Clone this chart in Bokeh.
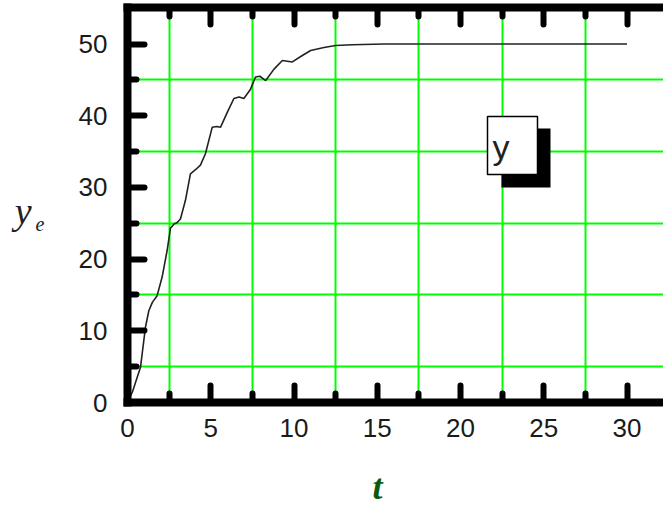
from bokeh.plotting import figure
from bokeh.models import (FixedTicker, LinearAxis, Range1d, Label, BoxAnnotation, ColumnDataSource,
                          CustomLabelingPolicy, Title)
from bokeh.embed import file_html
from bokeh.resources import INLINE

# ---- data ----
t_vals = [0, 0.3, 0.78, 1.08, 1.28, 1.5, 1.78, 2.08, 2.38, 2.58, 2.8, 2.98, 3.18, 3.48, 3.78,
          4.1, 4.38, 4.68, 5.09, 5.35, 5.59, 6.0, 6.39, 6.7, 6.99, 7.39, 7.69, 7.95, 8.3, 8.8,
          9.3, 9.9, 10.5, 11.0, 11.8, 12.5, 13.5, 15.4, 20, 25, 30]
ye_vals = [0, 1.5, 4.9, 10.5, 12.8, 14.0, 14.9, 17.5, 21.2, 24.3, 24.9, 25.1, 25.6, 28.2, 31.9,
           32.5, 33.1, 34.7, 38.4, 38.5, 38.4, 40.5, 42.4, 42.6, 42.4, 43.7, 45.4, 45.5, 44.9, 46.5,
           47.7, 47.5, 48.4, 49.1, 49.5, 49.8, 49.9, 50, 50, 50, 50]
x_major = [0, 5, 10, 15, 20, 25, 30]
x_minor = [2.5, 7.5, 12.5, 17.5, 22.5, 27.5]
y_major = [0, 10, 20, 30, 40, 50]
y_minor = [5, 15, 25, 35, 45]
legend_text = "y"
x_title = "t"
y_title_main = "y"
y_title_sub = "e"

# ---- layout (page pixels, figure at top-left of page) ----
W, H = 663, 508
FRAME_L, FRAME_T, FRAME_B = 127, 7, 402
PX_PER_X = 16.65
PX_PER_Y = 7.17
x_end = (W - FRAME_L) / PX_PER_X
y_end = (FRAME_B - FRAME_T) / PX_PER_Y


def dx(px):
    return (px - FRAME_L) / PX_PER_X


def dy(py):
    return (FRAME_B - py) / PX_PER_Y


p = figure(width=W, height=H, output_backend="svg", toolbar_location=None,
           x_range=Range1d(0, x_end), y_range=Range1d(0, y_end),
           min_border_left=FRAME_L, min_border_right=0, min_border_top=FRAME_T,
           min_border_bottom=H - FRAME_B,
           background_fill_color="white", border_fill_color="white")
p.outline_line_color = None

no_labels = CustomLabelingPolicy(code="for (const i of indices) { if (false) yield i }")

bottom = p.below[0]
left = p.left[0]
top = LinearAxis(major_label_text_font_size="0px", major_label_standoff=0,
                 major_label_policy=no_labels)
p.add_layout(top, "above")

label_font = "Liberation Sans"
for ax, major, minor in [(bottom, x_major, x_minor), (left, y_major, y_minor), (top, x_major, x_minor)]:
    ax.ticker = FixedTicker(ticks=major, minor_ticks=minor)
    ax.axis_line_width = 8
    ax.axis_line_color = "black"
    ax.axis_line_cap = "square"
    ax.major_tick_in = 17
    ax.major_tick_out = 0
    ax.minor_tick_in = 9
    ax.minor_tick_out = 0
    ax.major_tick_line_width = 6
    ax.minor_tick_line_width = 6
    ax.major_tick_line_cap = "round"
    ax.minor_tick_line_cap = "round"
    ax.major_tick_line_color = "black"
    ax.minor_tick_line_color = "black"

for ax in [bottom, left]:
    ax.major_label_text_font = label_font
    ax.major_label_text_font_size = "26px"
    ax.major_label_text_color = "#1a1a1a"
bottom.major_label_standoff = 16
left.major_label_standoff = 20


def title_axis(text, standoff, font_size, line_height):
    return LinearAxis(ticker=FixedTicker(ticks=[]),
                      axis_line_color=None, major_tick_line_color=None, minor_tick_line_color=None,
                      major_tick_in=0, major_tick_out=0, minor_tick_in=0, minor_tick_out=0,
                      major_label_text_font_size="0px", major_label_standoff=0,
                      major_label_policy=no_labels,
                      axis_label=text, axis_label_standoff=standoff,
                      axis_label_orientation="horizontal",
                      axis_label_text_font="Liberation Serif", axis_label_text_font_size=font_size,
                      axis_label_text_font_style="italic", axis_label_text_color="#222222",
                      axis_label_text_line_height=line_height)


# y_e title: two stacked left axes used only for their labels (each pushed down by an empty line)
p.add_layout(title_axis("\n" + y_title_sub, 31, "20px", 1.7), "left")
p.add_layout(title_axis("\n" + y_title_main, 1, "38px", 0.27), "left")

# t title below the x axis (pushed down by an empty first line)
p.add_layout(Title(text="\n" + x_title, align="left", offset=245, standoff=0,
                   text_font="Liberation Serif", text_font_size="36px", text_line_height=0.64,
                   text_font_style="bold italic", text_color="#0b5a0b"), "below")

p.xgrid.ticker = FixedTicker(ticks=x_minor)
p.ygrid.ticker = FixedTicker(ticks=y_minor)
for g in [p.xgrid[0], p.ygrid[0]]:
    g.grid_line_color = "#00ff00"
    g.grid_line_width = 2

src = ColumnDataSource(dict(t=t_vals, ye=ye_vals))
p.line("t", "ye", source=src, line_color="#222222", line_width=1.6)

# legend-like box with shadow
p.add_layout(BoxAnnotation(left=dx(501), right=dx(550), top=dy(128), bottom=dy(187),
                           fill_color="black", fill_alpha=1, line_color=None))
p.add_layout(BoxAnnotation(left=dx(487), right=dx(537), top=dy(116), bottom=dy(174),
                           fill_color="white", fill_alpha=1, line_color="black", line_alpha=1,
                           line_width=1.5))
p.add_layout(Label(x=dx(492), y=dy(146), text=legend_text, text_font=label_font,
                   text_font_size="34px", text_color="#222222", text_baseline="alphabetic"))

open("out.html", "w").write(file_html(p, INLINE))
